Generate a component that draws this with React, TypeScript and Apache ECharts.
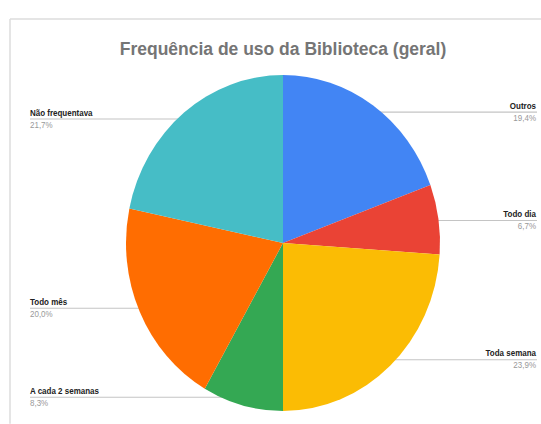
import React, { useEffect, useRef } from "react";
import * as echarts from "echarts";

const categories = ["Outros", "Todo dia", "Toda semana", "A cada 2 semanas", "Todo mês", "Não frequentava"];
const percents = [19.4, 6.7, 23.9, 8.3, 20.0, 21.7];
const colors = ["#4285f4", "#ea4335", "#fbbc04", "#34a853", "#ff6d01", "#46bdc6"];
const titleText = "Frequência de uso da Biblioteca (geral)";

const SY = 1.07; // vertical stretch of the reference
const W = 541;
const H = Math.round(424 / SY);
const CX = 283;
const CY = 243 / SY;
const R = 157;
const FONT = "'Liberation Sans', Arial, sans-serif";

export default function App() {
  const ref = useRef<HTMLDivElement>(null);
  useEffect(() => {
    if (!ref.current) return;
    const chart = echarts.init(ref.current, null, { renderer: "svg" });
    const total = percents.reduce((a, b) => a + b, 0);
    const cum: number[] = [];
    let acc = 0;
    percents.forEach((v) => {
      cum.push(acc);
      acc += v;
    });
    chart.setOption({
      animation: false,
      backgroundColor: "#ffffff",
      textStyle: { fontFamily: FONT },
      title: {
        text: titleText,
        left: CX,
        top: 37,
        textAlign: "center",
        padding: 0,
        textStyle: { fontFamily: FONT, fontSize: 17.5, fontWeight: "bold", color: "#757575" },
      },
      graphic: [
        {
          type: "line",
          shape: { x1: 10, y1: 19 / SY, x2: W, y2: 19 / SY },
          style: { stroke: "#dddddd", lineWidth: 1.5 },
          silent: true,
        },
        {
          type: "line",
          shape: { x1: 10, y1: 19 / SY, x2: 10, y2: H + 2 },
          style: { stroke: "#dddddd", lineWidth: 1.5 },
          silent: true,
        },
      ],
      series: [
        {
          type: "pie",
          center: [CX, CY],
          radius: R,
          startAngle: 90,
          clockwise: true,
          avoidLabelOverlap: false,
          itemStyle: { borderWidth: 0 },
          emphasis: { disabled: true },
          data: categories.map((name, i) => ({
            name,
            value: percents[i],
            itemStyle: { color: colors[i] },
          })),
          label: {
            show: true,
            position: "outside",
            formatter: (p: any) =>
              `{n|${p.name}}\n{p|${percents[p.dataIndex].toFixed(1).replace(".", ",")}%}`,
            rich: {
              n: { fontFamily: FONT, fontSize: 8, fontWeight: "bold", color: "#222222", lineHeight: 11 },
              p: { fontFamily: FONT, fontSize: 8, color: "#999999", lineHeight: 11 },
            },
          },
          labelLine: {
            show: true,
            length: 5,
            length2: 5,
            lineStyle: { color: "#c4c4c4", width: 1 },
          },
          labelLayout: (params: any) => {
            const i = params.dataIndex;
            const theta = (2 * Math.PI * (cum[i] + percents[i] / 2)) / total;
            const px = CX + 0.95 * R * Math.sin(theta);
            const py = CY - 0.95 * R * Math.cos(theta);
            const isRight = Math.sin(theta) > 0;
            const endX = isRight ? 537 : 30;
            return {
              x: isRight ? 536 : 30,
              y: py,
              align: isRight ? "right" : "left",
              verticalAlign: "middle",
              labelLinePoints: [
                [px, py],
                [px, py],
                [endX, py],
              ],
            };
          },
        },
      ],
    });
    return () => chart.dispose();
  }, []);
  return (
    <div
      ref={ref}
      style={{
        position: "fixed",
        left: 0,
        top: 0,
        width: W,
        height: H,
        transform: `scaleY(${SY})`,
        transformOrigin: "top left",
      }}
    />
  );
}
